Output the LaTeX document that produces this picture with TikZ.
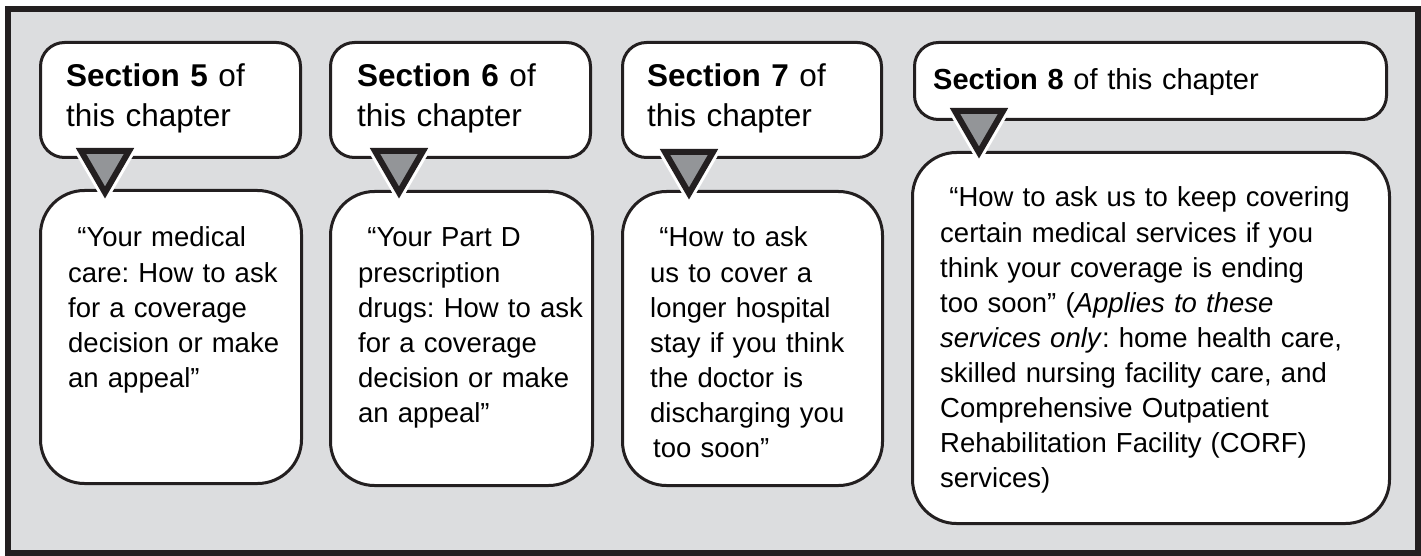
\documentclass[tikz,border=0pt]{standalone}
\usepackage{fontspec}
\setmainfont{Liberation Sans}
\usetikzlibrary{positioning}
\frenchspacing

\definecolor{panelgrey}{RGB}{220,221,223}
\definecolor{pointergrey}{RGB}{147,149,152}
\definecolor{inkdark}{RGB}{35,31,32}

\tikzset{
  frame/.style={fill=panelgrey, draw=inkdark, line width=6pt},
  headbox/.style={draw=inkdark, fill=white, line width=3pt, rounded corners=24pt,
    anchor=north west, minimum height=115pt, inner sep=0pt},
  bodybox/.style={draw=inkdark, fill=white, line width=3pt, rounded corners=44pt,
    anchor=north west, inner sep=0pt},
  headtext/.style={anchor=base west, inner sep=0pt, align=left, text width=240pt,
    font=\fontsize{31.5}{39.5}\selectfont},
  bodytext/.style={anchor=base west, inner sep=0pt, align=left, text width=440pt,
    font=\fontsize{27.5}{35.1}\selectfont},
  halo/.style={draw=white, line width=12pt, line join=miter},
  pointer/.style={fill=pointergrey, draw=inkdark, line width=6pt, line join=miter}
}

\begin{document}
\begin{tikzpicture}[x=1pt,y=-1pt]
\useasboundingbox (0,0) rectangle (1421,556);
            % Panel
\draw[frame] (8,9.5) rectangle (1418,553);
            % Section boxes
\node[headbox, minimum width=260pt] (h1) at (39,41) {};
\node[headbox, minimum width=260pt] (h2) at (329,41) {};
\node[headbox, minimum width=259pt] (h3) at (621,41) {};
\node[headbox, minimum width=472pt, minimum height=77pt] (h4) at (913,41) {};
            % Topic boxes
\node[bodybox, minimum width=261pt, minimum height=293pt] (b1) at (39,189) {};
\node[bodybox, minimum width=262pt, minimum height=294pt] (b2) at (329,190) {};
\node[bodybox, minimum width=260pt, minimum height=294pt] (b3) at (621,190) {};
\node[bodybox, minimum width=477pt, minimum height=371pt] (b4) at (911,151) {};
            % Pointers
\draw[halo] (81,151) -- (129,151) -- (105,192.5) -- cycle;
\draw[pointer] (81,151) -- (129,151) -- (105,192.5) -- cycle;
\draw[halo] (375,151) -- (423,151) -- (399,192.5) -- cycle;
\draw[pointer] (375,151) -- (423,151) -- (399,192.5) -- cycle;
\draw[halo] (665,152) -- (713,152) -- (689,193.5) -- cycle;
\draw[pointer] (665,152) -- (713,152) -- (689,193.5) -- cycle;
\draw[halo] (955,111) -- (1003,111) -- (979,152.5) -- cycle;
\draw[pointer] (955,111) -- (1003,111) -- (979,152.5) -- cycle;
            % Section labels
\node[headtext] (s5) at (66,87) {\textbf{Section 5} of\\this chapter};
\node[headtext] (s6) at (357,87) {\textbf{Section 6} of\\this chapter};
\node[headtext] (s7) at (647,87) {\textbf{Section 7} of\\this chapter};
\node[headtext, text width=440pt, font=\fontsize{29}{35}\selectfont] (s8) at (933,90) {\textbf{Section 8} of this chapter};
            % Topic texts
\node[bodytext] (t5) at (68,247) {\ “Your medical\\care: How to ask\\for a coverage\\decision or make\\an appeal”};
\node[bodytext] (t6) at (358,247) {\ “Your Part D\\prescription\\drugs: How to ask\\for a coverage\\decision or make\\an appeal”};
\node[bodytext] (t7) at (650,247) {\ “How to ask\\us to cover a\\longer hospital\\stay if you think\\the doctor is\\discharging you\\\hspace*{3pt}too soon”};
\node[bodytext] (t8) at (940,207) {\ “How to ask us to keep covering\\certain medical services if you\\think your coverage is ending\\too soon” (\textit{Applies to these}\\\textit{services only}: home health care,\\skilled nursing facility care, and\\Comprehensive Outpatient\\Rehabilitation Facility (CORF)\\services)};
\end{tikzpicture}
\end{document}
